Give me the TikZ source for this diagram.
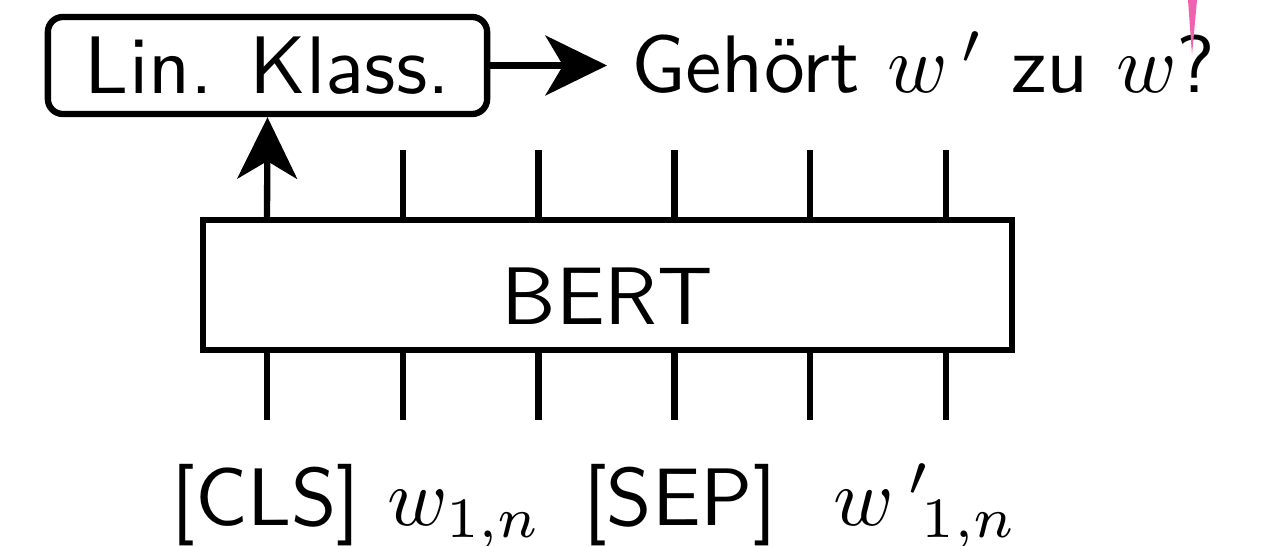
\documentclass[tikz,border=0pt]{standalone}
\usepackage{amsmath}
\usepackage{graphicx}
\usepackage{tikz}
\usetikzlibrary{arrows.meta,positioning}
\definecolor{cursorpink}{HTML}{F062B0}
\newcommand{\sz}[1]{\scalebox{2.32}{#1}}

\begin{document}
\begin{tikzpicture}[
  x=0.01cm, y=-0.01cm,
  font=\fontsize{10}{12}\selectfont\sffamily,
  line width=1.8pt,
  box/.style={rectangle, draw, minimum width=8.09cm, minimum height=1.30cm, inner sep=0pt},
  clsbox/.style={rectangle, draw, rounded corners=0.15cm, minimum width=4.39cm, minimum height=0.97cm, inner sep=0pt},
  lbl/.style={anchor=base, inner sep=0pt},
  tick/.style={line cap=butt},
  >={Stealth[length=17.5pt, width=17pt, inset=5pt]}
]
\useasboundingbox (0,0) rectangle (1270,546);

% BERT
\node[box, text height=0.78cm] (bert) at (607.5,285) {\sz{BERT}};

% Lin. Klass.
\node[clsbox] (cls) at (267.5,65.5) {\sz{Lin. Klass.}};
\node[anchor=base west, inner xsep=0.21cm, inner ysep=0pt] (q) at (607,93)
  {\sz{Gehört $w\,'$ zu $w$?}};

\draw[->] (cls.east) -- (cls.east -| q.west);

% tokens
\foreach \i in {0,...,5} {
  \coordinate (top\i) at (267+135.8*\i,150);
  \coordinate (bot\i) at (267+135.8*\i,420);
  \draw[tick] (bot\i) -- (bot\i |- bert.south);
}
\foreach \i in {1,...,5} {
  \draw[tick] (top\i |- bert.north) -- (top\i);
}
\draw[->] (top0 |- bert.north) -- (cls.south);

% labels
\node[lbl] (tcls) at (266,525) {\sz{[CLS]}};
\node[lbl] (tw) at (465,525) {\sz{$w_{1,n}$}};
\node[lbl] (tsep) at (680,525) {\sz{[SEP]}};
\node[lbl] (twp) at (926,525) {\sz{$w\mkern3mu\rlap{$'$}\mkern3mu{}_{1,n}$}};

% cursor
\fill[cursorpink] (1188,0) -- (1197,0) -- (1192,55) -- cycle;
\end{tikzpicture}
\end{document}
